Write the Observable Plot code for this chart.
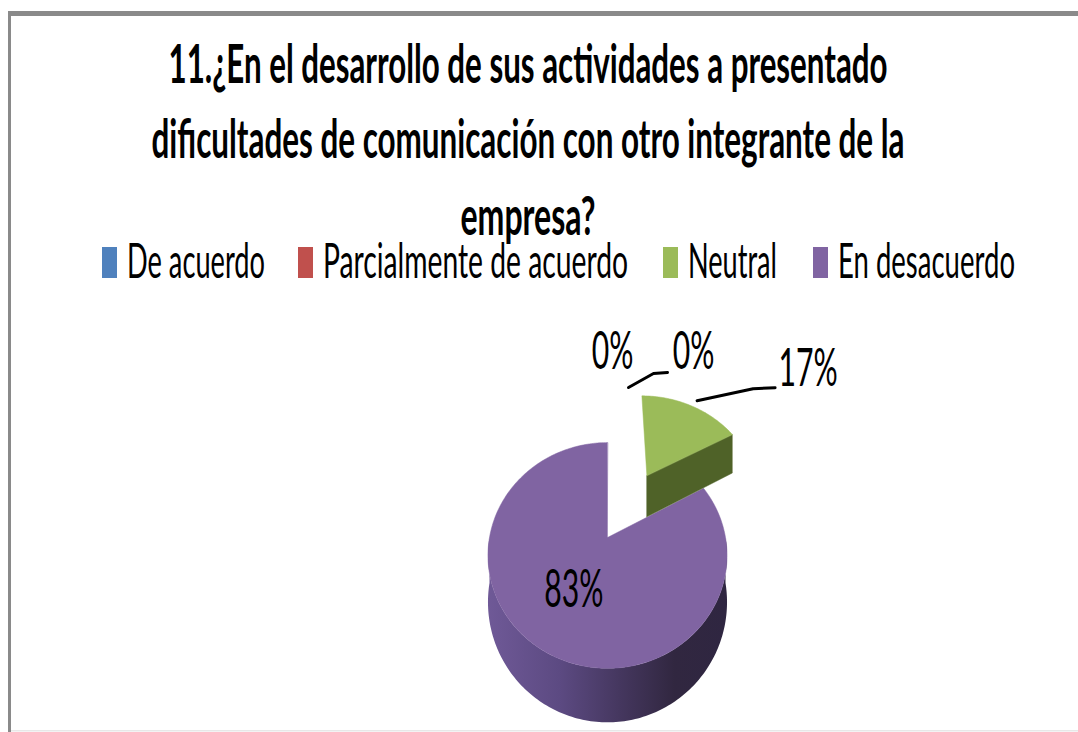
<!DOCTYPE html>
<html><head><meta charset="utf-8">
<script src="https://cdn.jsdelivr.net/npm/d3@7"></script>
<script src="https://cdn.jsdelivr.net/npm/@observablehq/plot@0.6"></script>
<style>
html,body{margin:0;padding:0;background:#fff;}
#wrap{position:relative;width:1078px;height:732px;overflow:hidden;font-family:Lato,"Open Sans",sans-serif;}
#wrap > svg, #wrap > figure{position:absolute;left:0;top:0;margin:0;}
</style></head><body><div id="wrap"></div>
<script>
// ---------- data ----------
const categories = ["De acuerdo", "Parcialmente de acuerdo", "Neutral", "En desacuerdo"];
const percentages = [0, 0, 17, 83];
const labels = ["0%", "0%", "17%", "83%"];
const colors = ["#4F81BD", "#C0504D", "#9BBB59", "#8064A2"];
const sideColors = ["#385D8A", "#8C3836", "#4F6228", "url(#purpleSide)"];
const titleLines = [
  "11.¿En el desarrollo de sus actividades a presentado",
  "dificultades de comunicación con otro integrante de la",
  "empresa?"
];

// ---------- layout ----------
const W = 1078, H = 732;
const CX = 607, CY = 537;           // pie centre (px)
const A = 118, B = 110, D = 6.28, T = 45.4; // perspective ellipse params
const explode = [0.72, 0.72, 0.72, 0];
const drawOrder = [3, 0, 1, 2];
const insideR = 0.52;
const labelOffset = [[5, -37], [86, -37], [117, -36], null];
const leaderOffset = [null, [[21, -1.5], [46, -15.5], [60, -16.5]], [[6, -5], [62, -17], [84, -18]], null];
const SQ = 0.58;
const titleX = 528, titleBase = [83, 158, 235], titleLen = [719, 753, 135], titleSize = 53;
const legX = [102, 298, 663, 813], legTextX = [127, 323, 688, 838], legLen = [138, 305, 89, 177];
const legY = 247, legH = 31, legW = 15, legBase = 278, legSize = 49;

// ---------- geometry ----------
function proj(u, v, h) {
  const s = D / (D - v);
  return [A * u * s, (B * v + T * h) * s];
}
const arcs = d3.pie().sort(null).value(d => d)(percentages);
function pt(i, theta, r, h) {
  const a = arcs[i], mid = (a.startAngle + a.endAngle) / 2, e = explode[i];
  const u = e * Math.sin(mid) + r * Math.sin(theta);
  const v = -e * Math.cos(mid) - r * Math.cos(theta);
  return proj(u, v, h);
}
function arcPts(i, t0, t1, h) {
  const n = Math.max(2, Math.ceil((t1 - t0) / 0.02));
  return d3.range(n + 1).map(k => pt(i, t0 + (t1 - t0) * k / n, 1, h));
}
const polys = [];
for (const i of drawOrder) {
  const a = arcs[i];
  if (percentages[i] <= 0) continue;
  const a0 = a.startAngle, a1 = a.endAngle;
  const s0 = Math.max(a0, Math.PI / 2), s1 = Math.min(a1, 3 * Math.PI / 2);
  if (s1 > s0) polys.push({key: `side${i}`, fill: sideColors[i], pts: [...arcPts(i, s0, s1, 0), ...arcPts(i, s0, s1, 1).reverse()]});
  if (Math.sin(a1) > 1e-6) polys.push({key: `cutE${i}`, fill: sideColors[i], pts: [pt(i, a1, 0, 0), pt(i, a1, 1, 0), pt(i, a1, 1, 1), pt(i, a1, 0, 1)]});
  if (-Math.sin(a0) > 1e-6) polys.push({key: `cutS${i}`, fill: sideColors[i], pts: [pt(i, a0, 0, 0), pt(i, a0, 1, 0), pt(i, a0, 1, 1), pt(i, a0, 0, 1)]});
  polys.push({key: `top${i}`, fill: colors[i], pts: [pt(i, 0, 0, 0), ...arcPts(i, a0, a1, 0)]});
}

// labels + leader lines
const labelRows = [], leaderRows = [];
arcs.forEach((a, i) => {
  const mid = (a.startAngle + a.endAngle) / 2;
  if (labelOffset[i]) {
    const [ax, ay] = pt(i, mid, 1, 0);
    labelRows.push({x: ax + labelOffset[i][0], y: ay + labelOffset[i][1], text: labels[i]});
    if (leaderOffset[i]) leaderOffset[i].forEach(([dx, dy]) => leaderRows.push({slice: i, x: ax + dx, y: ay + dy}));
  } else {
    const [x, y] = pt(i, mid, insideR, 0);
    labelRows.push({x, y, text: labels[i]});
  }
});

const marks = polys.map(p => Plot.line(p.pts, {x: d => d[0], y: d => d[1], fill: p.fill, stroke: p.fill.startsWith("url") ? "none" : p.fill, strokeWidth: 0.5, curve: "linear-closed"}));
marks.push(Plot.line(leaderRows, {x: "x", y: "y", z: "slice", stroke: "#000", strokeWidth: 3}));
marks.push(Plot.text(labelRows, {x: "x", y: "y", text: "text", fontSize: 52, fill: "#000", textAnchor: "middle", fontFamily: "Lato"}));

const plot = Plot.plot({
  width: W, height: H, margin: 0,
  x: {domain: [-CX, W - CX], range: [0, W], axis: null},
  y: {domain: [-CY, H - CY], range: [0, H], axis: null},
  style: {background: "transparent", fontFamily: "Lato"},
  marks
});
const wrap = document.getElementById("wrap");

// frame
const frame = d3.create("svg").attr("width", W).attr("height", H);
frame.append("rect").attr("x", 8).attr("y", 11).attr("width", W - 8).attr("height", 5).attr("fill", "#8a8a8a");
frame.append("rect").attr("x", 8).attr("y", 11).attr("width", 3).attr("height", H - 11).attr("fill", "#8a8a8a");
frame.append("rect").attr("x", 11).attr("y", 730).attr("width", W - 11).attr("height", 1.5).attr("fill", "#e8e8e8");
wrap.appendChild(frame.node());

wrap.appendChild(plot);
const svgp = plot.tagName.toLowerCase() === "svg" ? plot : plot.querySelector("svg");
d3.select(svgp).insert("defs", ":first-child").html(`
  <linearGradient id="purpleSide" x1="0" x2="1" y1="0" y2="0">
    <stop offset="0" stop-color="#6f5997"/>
    <stop offset="0.3" stop-color="#5c4a82"/>
    <stop offset="0.55" stop-color="#45375f"/>
    <stop offset="0.78" stop-color="#312740"/>
    <stop offset="1" stop-color="#2f2641"/>
  </linearGradient>`);
// condense the label glyphs (the reference font is strongly condensed)
svgp.querySelectorAll('g[aria-label="text"] text').forEach(t => {
  const len = t.getComputedTextLength();
  if (len > 0) {
    t.setAttribute("textLength", (len * SQ).toFixed(1));
    t.setAttribute("lengthAdjust", "spacingAndGlyphs");
  }
});

// title + legend overlay
const ov = d3.create("svg").attr("width", W).attr("height", H).style("font-family", "Lato, 'Open Sans', sans-serif");
titleLines.forEach((s, k) => {
  ov.append("text").attr("x", titleX).attr("y", titleBase[k]).attr("text-anchor", "middle")
    .attr("font-size", titleSize).attr("font-weight", 700).attr("fill", "#000")
    .attr("textLength", titleLen[k]).attr("lengthAdjust", "spacingAndGlyphs").text(s);
});
categories.forEach((c, i) => {
  ov.append("rect").attr("x", legX[i]).attr("y", legY).attr("width", legW).attr("height", legH).attr("fill", colors[i]);
  ov.append("text").attr("x", legTextX[i]).attr("y", legBase).attr("font-size", legSize).attr("fill", "#000")
    .attr("textLength", legLen[i]).attr("lengthAdjust", "spacingAndGlyphs").text(c);
});
wrap.appendChild(ov.node());
</script></body></html>
